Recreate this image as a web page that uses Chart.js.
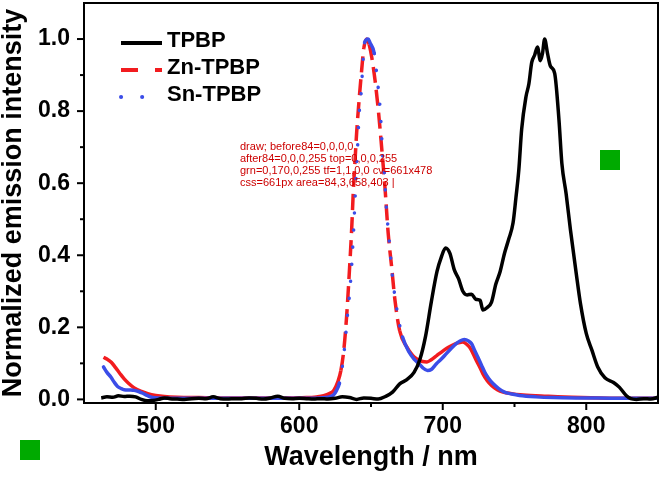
<!DOCTYPE html>
<html>
<head>
<meta charset="utf-8">
<title>Emission spectra</title>
<script src="https://cdn.jsdelivr.net/npm/chart.js@4.4.1/dist/chart.umd.min.js"></script>
<style>
  body { margin: 0; background: #fff; }
  canvas { display: block; }
  #dbg { position: absolute; left: 240px; top: 140px; width: 200px; font: 11px sans-serif; color: #c00; }
</style>
</head>
<body>
<canvas id="chart" width="661" height="478"></canvas>
<div id="dbg"></div>
<script>
window.onerror = (m) => { document.getElementById('dbg').textContent += 'ERR ' + m + ' | '; };

// wavelength (nm) and normalized intensity
const tpbpX = [462,466,470,474,478,482,486,490,494,498,502,506,510,515,520,525,530,535,540,545,550,555,560,565,570,575,580,585,590,595,600,605,610,615,620,625,630,635,640,645,650,655,660,665,670,675,680,684,688,692,696,699,702,705,708,711,714,717,720,723,726,728,731,734,737,740,743,746,749,751,753,755,758,760,762,764,766,768,769.5,771,773,775,778,781,783,786,789,793,796,800,804,808,813,819,823,828,831,835,840,845,850];
const tpbpY = [0.004,0.007,0.006,0.01,0.008,0.009,0.007,0.0,-0.004,-0.003,0.0,0.004,0.002,0.001,0.0,0.002,0.003,0.002,0.007,0.002,0.001,0.002,0.002,0.004,0.003,0.001,0.004,0.009,0.003,0.002,0.003,0.002,0.001,0.002,0.001,0.003,0.007,0.005,0.0,0.004,0.003,0.001,0.008,0.02,0.043,0.055,0.075,0.11,0.175,0.27,0.355,0.395,0.42,0.405,0.36,0.335,0.3,0.29,0.292,0.278,0.275,0.248,0.255,0.27,0.32,0.355,0.405,0.445,0.49,0.56,0.636,0.75,0.84,0.875,0.935,0.955,0.978,0.94,0.96,1.0,0.96,0.925,0.905,0.775,0.655,0.57,0.47,0.35,0.265,0.183,0.136,0.09,0.06,0.047,0.034,0.01,0.002,0.0,0.002,0.001,0.006];

const znX = [463.6,466,469,472,475,478,481,485,490,495,500,506,515,530,550,570,590,605,612,617,621,624,627,629,631,633,635,636.6,637.7,638.9,640,641.9,643.5,645,647,648.7,650.5,652.8,655.1,657.4,659.7,662,664.4,666.7,670,675,679,682,686,689,692,696,700,704,708,711,714,717,719,721,723.4,726,728,731,734,738,742,748,754,765,777,790,810,830,850];
const znY = [0.117,0.112,0.103,0.088,0.072,0.057,0.045,0.032,0.022,0.015,0.011,0.008,0.006,0.005,0.004,0.004,0.004,0.005,0.007,0.01,0.016,0.025,0.05,0.08,0.135,0.23,0.36,0.478,0.58,0.664,0.74,0.84,0.914,0.975,1.0,0.985,0.95,0.886,0.803,0.70,0.59,0.46,0.367,0.275,0.19,0.145,0.122,0.112,0.105,0.104,0.11,0.122,0.134,0.145,0.153,0.157,0.159,0.152,0.143,0.128,0.108,0.088,0.071,0.052,0.039,0.027,0.02,0.016,0.013,0.01,0.008,0.006,0.004,0.003,0.003];

const snX = [463.6,466,468.7,471,473.4,476,478,482,485,488,491,494,497,502,520,550,580,605,615,620,624,626,628,629.5,630.7,632,633,635,636.5,637.5,638.5,639.8,641,641.6,643.2,644.4,645.5,648,649.3,652.3,654.2,656.5,658.1,659.3,660.4,662.7,665,668.5,672,676.6,680,683.5,686,689.4,692,695.6,699,702.5,706,709.4,712,715,718,720,722,724.5,727,729.2,732,735,739,743,748,753.5,765,777,800,825,850];
const snY = [0.09,0.075,0.062,0.048,0.036,0.03,0.027,0.026,0.025,0.022,0.017,0.011,0.006,0.004,0.003,0.003,0.003,0.003,0.004,0.006,0.013,0.025,0.045,0.075,0.115,0.16,0.21,0.29,0.37,0.44,0.52,0.636,0.73,0.784,0.854,0.937,0.99,1.0,0.99,0.96,0.895,0.80,0.68,0.627,0.55,0.44,0.34,0.238,0.173,0.131,0.112,0.099,0.088,0.08,0.083,0.099,0.112,0.127,0.142,0.155,0.162,0.166,0.162,0.155,0.138,0.117,0.095,0.076,0.058,0.044,0.03,0.02,0.015,0.011,0.007,0.005,0.004,0.003,0.003];

const seriesNames = ['TPBP', 'Zn-TPBP', 'Sn-TPBP'];
const xTicks = [500, 600, 700, 800];
const xMinorTicks = [550, 650, 750];
const yTicks = [0, 0.2, 0.4, 0.6, 0.8, 1.0];
const yMinorTicks = [0.1, 0.3, 0.5, 0.7, 0.9];

const RED = '#f21c1f';
const BLUE = '#3b4de8';

const pts = (xs, ys) => xs.map((x, i) => ({x: x, y: ys[i]}));

const steep = c => Math.abs(c.p1.y - c.p0.y) > 4 * Math.abs(c.p1.x - c.p0.x);

const legendDash = [[], [17, 17], [0.1, 21]];
const legendCap = ['butt', 'butt', 'round'];

const px = (ctx, x, y) => Array.from(ctx.getImageData(x, y, 1, 1).data).join(',');

const framePlugin = {
  id: 'frame',
  afterDraw(chart) {
    const {ctx, chartArea: a, scales} = chart;
    const before = px(ctx, 84, 200);
    ctx.save();
    ctx.fillStyle = '#000';
    const w = a.right - a.left, h = a.bottom - a.top;
    ctx.fillRect(a.left - 1, a.top - 1, w + 2, 2);
    ctx.fillRect(a.left - 1, a.bottom - 1, w + 2, 2);
    ctx.fillRect(a.left - 1, a.top - 1, 2, h + 2);
    ctx.fillRect(a.right - 1, a.top - 1, 2, h + 2);
    xTicks.forEach(v => ctx.fillRect(scales.x.getPixelForValue(v) - 1, a.bottom, 2, 7));
    xMinorTicks.forEach(v => ctx.fillRect(scales.x.getPixelForValue(v) - 1, a.bottom, 2, 4));
    yTicks.forEach(v => ctx.fillRect(a.left - 7, scales.y.getPixelForValue(v) - 1, 7, 2));
    yMinorTicks.forEach(v => ctx.fillRect(a.left - 4, scales.y.getPixelForValue(v) - 1, 4, 2));
    ctx.fillStyle = '#0a0';
    ctx.fillRect(20, 440, 20, 20);
    ctx.fillRect(600, 150, 20, 20);

    const x0 = a.left + 37, y0 = a.top + 40, rowH = 27;
    ctx.font = "bold 22px 'Liberation Sans', Arial, sans-serif";
    ctx.textBaseline = 'middle';
    ctx.textAlign = 'left';
    chart.data.datasets.forEach((ds, i) => {
      const y = y0 + i * rowH;
      ctx.save();
      ctx.strokeStyle = ds.borderColor;
      ctx.lineWidth = 4;
      ctx.lineCap = legendCap[i];
      ctx.setLineDash(legendDash[i]);
      ctx.beginPath();
      ctx.moveTo(x0, y);
      ctx.lineTo(x0 + 41, y);
      ctx.stroke();
      ctx.restore();
      ctx.fillStyle = '#000';
      ctx.fillText(ds.label, x0 + 46, y - 2);
    });
    ctx.restore();
    const t = ctx.getTransform();
    document.getElementById('dbg').textContent +=
      'draw; before84=' + before + ' after84=' + px(ctx, 84, 200) + ' top=' + px(ctx, 300, 3) +
      ' grn=' + px(ctx, 30, 450) + ' tf=' + [t.a, t.d, t.e, t.f].join(',') +
      ' cv=' + chart.canvas.width + 'x' + chart.canvas.height + ' css=' + chart.canvas.style.width +
      ' area=' + [a.left, a.top, a.right, a.bottom].join(',') + ' | ';
  }
};

const noPad = s => { s.paddingTop = 0; s.paddingBottom = 0; s.paddingLeft = 0; s.paddingRight = 0; };

Chart.defaults.font.family = "'Liberation Sans', Arial, sans-serif";
Chart.defaults.font.weight = 'bold';
Chart.defaults.color = '#000';

new Chart(document.getElementById('chart'), {
  type: 'line',
  data: {
    datasets: [
      { label: seriesNames[0], data: pts(tpbpX, tpbpY), borderColor: '#000', borderWidth: 3.5, order: 0 },
      { label: seriesNames[1], data: pts(znX, znY), borderColor: RED, borderWidth: 3.5, order: 2,
        segment: { borderDash: c => steep(c) ? [16, 7] : undefined } },
      { label: seriesNames[2], data: pts(snX, snY), borderColor: BLUE, borderWidth: 3.5, borderCapStyle: 'round', order: 1,
        segment: { borderDash: c => steep(c) ? [0.1, 17] : undefined } }
    ]
  },
  options: {
    responsive: false,
    animation: false,
    layout: { padding: { top: 3, right: 3, left: 0, bottom: 0 } },
    elements: {
      point: { radius: 0 },
      line: { cubicInterpolationMode: 'monotone', fill: false }
    },
    scales: {
      x: {
        type: 'linear', min: 450, max: 850,
        afterFit: s => { s.height = 75; noPad(s); },
        afterBuildTicks: s => { s.ticks = xTicks.map(v => ({value: v})); },
        border: { display: false },
        grid: { display: false, drawTicks: false },
        ticks: { font: { size: 23, weight: 'bold' }, padding: 10, maxRotation: 0, callback: v => v },
        title: { display: true, text: 'Wavelength / nm', font: { size: 27, weight: 'bold' }, padding: { top: 0, bottom: 4 } }
      },
      y: {
        min: -0.01, max: 1.1,
        afterFit: s => { s.width = 84; noPad(s); },
        afterBuildTicks: s => { s.ticks = yTicks.map(v => ({value: v})); },
        border: { display: false },
        grid: { display: false, drawTicks: false },
        ticks: { font: { size: 23, weight: 'bold' }, padding: 14, callback: v => v.toFixed(1) },
        title: { display: true, text: 'Normalized emission intensity', font: { size: 27, weight: 'bold', lineHeight: 1 }, padding: { top: 0, bottom: 0 } }
      }
    },
    plugins: { tooltip: { enabled: false }, legend: { display: false } }
  },
  plugins: [framePlugin]
});
</script>
</body>
</html>
